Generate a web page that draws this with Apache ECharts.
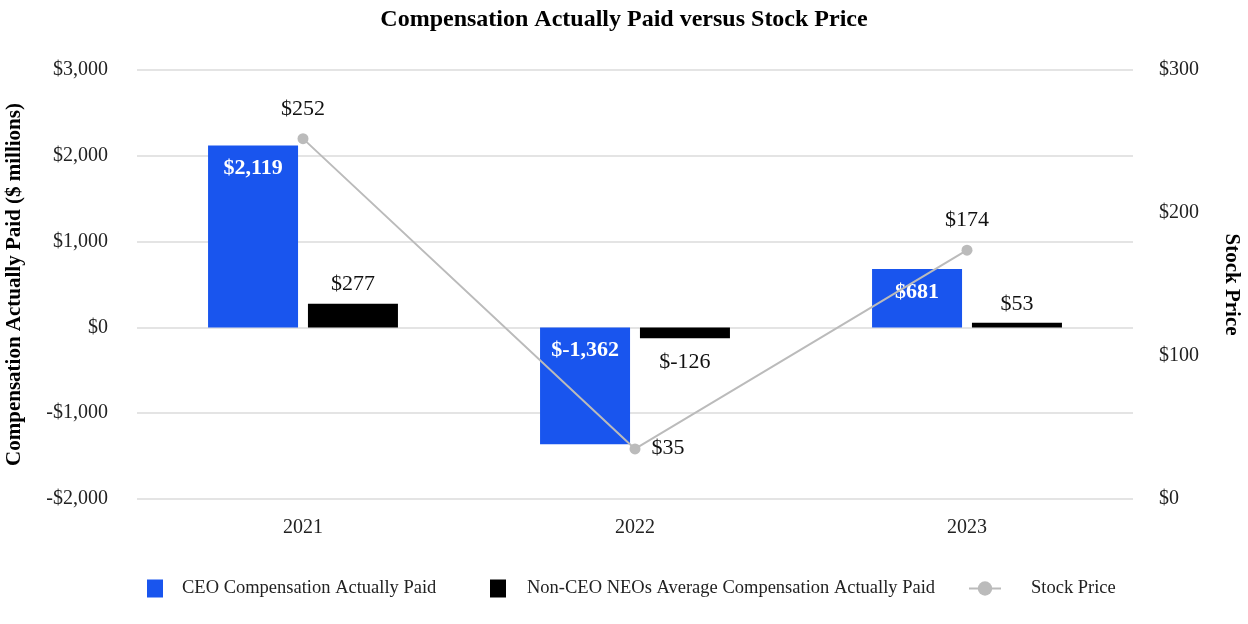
<!DOCTYPE html>
<html><head><meta charset="utf-8">
<script src="https://cdn.jsdelivr.net/npm/echarts@6/dist/echarts.min.js"></script>
<style>html,body{margin:0;padding:0;background:#fff}#c{width:1248px;height:624px}</style>
</head><body><div id="c"></div>
<script>
const years = ['2021','2022','2023'];
const ceoPay = [2119, -1362, 681];
const neoPay = [277, -126, 53];
const stockPrice = [252, 35, 174];
const leftTicks = [-2000, 3000, 1000];
const rightTicks = [0, 300, 100];

const F = 'Liberation Serif, Times New Roman, serif';
const fmt = v => '$' + (v < 0 ? '-' + Math.abs(v).toLocaleString('en-US') : v.toLocaleString('en-US'));
const fmtAxis = v => (v < 0 ? '-$' : '$') + Math.abs(v).toLocaleString('en-US');
const legText = pad => ({fontFamily: F, fontSize: 18.5, color: '#222', padding: [0, 0, 0, pad]});
const chart = echarts.init(document.getElementById('c'));
chart.setOption({
  animation: false,
  textStyle: {fontFamily: F},
  title: {text: 'Compensation Actually Paid versus Stock Price', left: 'center', top: 3,
    textStyle: {fontFamily: F, fontSize: 24, fontWeight: 'bold', color: '#000'}},
  grid: {left: 137, right: 115, top: 70, bottom: 125, outerBoundsMode: 'none', containLabel: false},
  legend: [
    {left: 142, top: 574, itemWidth: 16, itemHeight: 18, textStyle: legText(14),
     data: [{name: 'CEO Compensation Actually Paid', icon: 'rect'}]},
    {left: 485, top: 574, itemWidth: 16, itemHeight: 18, textStyle: legText(16),
     data: [{name: 'Non-CEO NEOs Average Compensation Actually Paid', icon: 'rect'}]},
    {left: 963, top: 574, itemWidth: 32, itemHeight: 18, textStyle: legText(25),
     data: [{name: 'Stock Price'}]}
  ],
  xAxis: {type: 'category', data: years,
    axisLine: {show: false}, axisTick: {show: false},
    axisLabel: {fontFamily: F, fontSize: 20, color: '#222', margin: 19}},
  yAxis: [
    {type: 'value', min: leftTicks[0], max: leftTicks[1], interval: leftTicks[2],
     name: 'Compensation Actually Paid ($ millions)', nameLocation: 'middle', nameGap: 112, nameRotate: 90,
     nameTextStyle: {fontFamily: F, fontSize: 21, fontWeight: 'bold', color: '#000'},
     axisLabel: {fontFamily: F, fontSize: 20, color: '#222', margin: 29, formatter: fmtAxis},
     splitLine: {lineStyle: {color: '#e4e4e4', width: 2}}},
    {type: 'value', min: rightTicks[0], max: rightTicks[1], interval: rightTicks[2], position: 'right',
     name: 'Stock Price', nameLocation: 'middle', nameGap: 88, nameRotate: -90,
     nameTextStyle: {fontFamily: F, fontSize: 21, fontWeight: 'bold', color: '#000'},
     axisLabel: {fontFamily: F, fontSize: 20, color: '#222', margin: 26, formatter: v => '$' + v},
     splitLine: {show: false}}
  ],
  series: [
    {name: 'CEO Compensation Actually Paid', type: 'bar', data: ceoPay, barWidth: 90, barGap: '11%',
     itemStyle: {color: '#1955EE'},
     label: {show: true, position: 'insideTop', distance: 12, color: '#fff', fontFamily: F, fontSize: 22, fontWeight: 'bold', formatter: p => fmt(p.value)}},
    {name: 'Non-CEO NEOs Average Compensation Actually Paid', type: 'bar', data: neoPay.map(v => ({value: v,
       label: {position: v < 0 ? 'bottom' : 'top', distance: v < 0 ? 13 : 8}})), barWidth: 90,
     itemStyle: {color: '#000'},
     label: {show: true, color: '#111', fontFamily: F, fontSize: 22, formatter: p => fmt(p.value)}},
    {name: 'Stock Price', type: 'line', yAxisIndex: 1, data: stockPrice.map((v, i) => ({value: v,
       label: i === 1 ? {position: [22, -6]} : {position: 'top', distance: 13}})),
     symbol: 'circle', symbolSize: 11, z: 5,
     lineStyle: {color: '#bbbbbb', width: 2}, itemStyle: {color: '#bbbbbb'},
     label: {show: true, color: '#111', fontFamily: F, fontSize: 22, formatter: p => '$' + p.value}}
  ]
});
</script></body></html>
